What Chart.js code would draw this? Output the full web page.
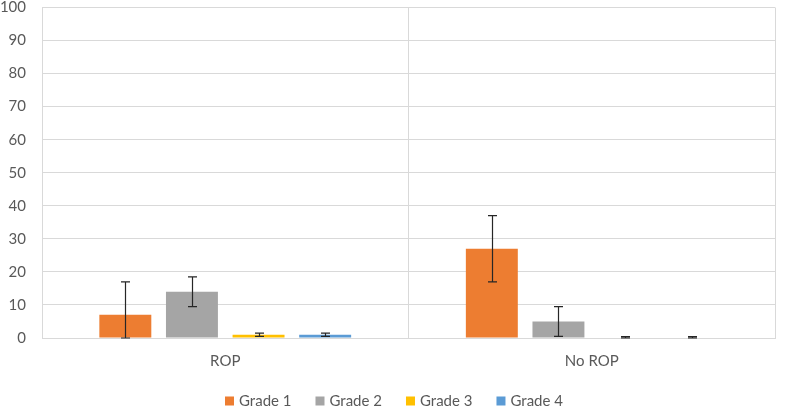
<!DOCTYPE html>
<html>
<head>
<meta charset="utf-8">
<script src="https://cdn.jsdelivr.net/npm/chart.js@4/dist/chart.umd.min.js"></script>
<style>
html,body{margin:0;padding:0;background:#fff;}
#wrap{width:787px;height:407px;position:relative;}
</style>
</head>
<body>
<div id="wrap"><canvas id="c" width="787" height="407"></canvas></div>
<script>
const categories = ["ROP", "No ROP"];
const seriesNames = ["Grade 1", "Grade 2", "Grade 3", "Grade 4"];
const grade1 = [7, 27];
const grade2 = [14, 5];
const grade3 = [1, 0];
const grade4 = [1, 0];
const grade1Err = [10, 10];
const grade2Err = [4.5, 4.5];
const grade3Err = [0.5, 0.4];
const grade4Err = [0.5, 0.4];
const yTicks = [0, 10, 20, 30, 40, 50, 60, 70, 80, 90, 100];

const colors = ["#ED7D31", "#A5A5A5", "#FFC000", "#5B9BD5"];
const values = [grade1, grade2, grade3, grade4];
const errors = [grade1Err, grade2Err, grade3Err, grade4Err];

const fontFamily = "Lato, 'Open Sans', sans-serif";

const errorBarPlugin = {
  id: 'errorBars',
  afterDatasetsDraw(chart) {
    const ctx = chart.ctx;
    const y = chart.scales.y;
    ctx.save();
    ctx.strokeStyle = '#262626';
    ctx.lineWidth = 1.2;
    chart.data.datasets.forEach((ds, di) => {
      const meta = chart.getDatasetMeta(di);
      meta.data.forEach((bar, i) => {
        const v = ds.data[i];
        const e = ds.errors[i];
        const top = y.getPixelForValue(v + e);
        const bot = y.getPixelForValue(Math.max(0, v - e));
        const x = Math.round(bar.x) + 0.5;
        const cap = 4.5;
        ctx.beginPath();
        ctx.moveTo(x, top); ctx.lineTo(x, bot);
        ctx.moveTo(x - cap, top); ctx.lineTo(x + cap, top);
        ctx.moveTo(x - cap, bot); ctx.lineTo(x + cap, bot);
        ctx.stroke();
      });
    });
    ctx.restore();
  }
};

const legendPlugin = {
  id: 'customLegend',
  afterDraw(chart) {
    const ctx = chart.ctx;
    ctx.save();
    ctx.font = "15px " + fontFamily;
    ctx.textBaseline = 'middle';
    const box = 9, gapText = 5, gapItem = 24;
    const items = chart.data.datasets.map(ds => ({ text: ds.label, color: ds.backgroundColor, w: ctx.measureText(ds.label).width }));
    let total = 0;
    items.forEach((it, i) => { total += box + gapText + it.w + (i < items.length - 1 ? gapItem : 0); });
    let x = Math.round((chart.width - total) / 2);
    const yc = 401;
    items.forEach(it => {
      ctx.fillStyle = it.color;
      ctx.fillRect(x, yc - 4.5, box, box);
      ctx.fillStyle = '#595959';
      ctx.fillText(it.text, x + box + gapText, yc);
      x += box + gapText + it.w + gapItem;
    });
    ctx.restore();
  }
};

new Chart(document.getElementById('c'), {
  type: 'bar',
  data: {
    labels: categories,
    datasets: seriesNames.map((n, i) => ({
      label: n,
      data: values[i],
      errors: errors[i],
      backgroundColor: colors[i],
      borderWidth: 0,
      categoryPercentage: 0.727,
      barPercentage: 0.78
    }))
  },
  options: {
    responsive: false,
    animation: false,
    devicePixelRatio: 1,
    layout: { padding: { left: 0, right: 12, top: 0, bottom: 22 } },
    plugins: {
      legend: { display: false },
      tooltip: { enabled: false }
    },
    scales: {
      x: {
        grid: { offset: true, color: '#d9d9d9', lineWidth: 1, drawTicks: false },
        border: { color: '#d9d9d9' },
        ticks: { color: '#595959', font: { family: fontFamily, size: 15, lineHeight: 1 }, padding: 16 }
      },
      y: {
        min: 0, max: 100,
        afterBuildTicks(scale) { scale.ticks = yTicks.map(v => ({ value: v })); },
        afterFit(scale) { scale.width = 42; },
        grid: { color: '#d9d9d9', lineWidth: 1, drawTicks: true, tickLength: 16, tickColor: 'rgba(0,0,0,0)' },
        border: { color: '#d9d9d9' },
        ticks: { color: '#595959', font: { family: fontFamily, size: 15, lineHeight: 1 }, padding: 0 }
      }
    }
  },
  plugins: [errorBarPlugin, legendPlugin]
});
</script>
</body>
</html>
